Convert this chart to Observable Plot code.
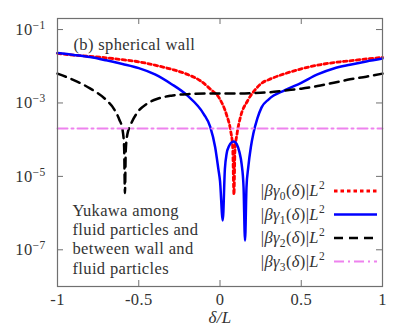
<!DOCTYPE html>
<html><head><meta charset="utf-8">
<script src="https://cdn.jsdelivr.net/npm/d3@7"></script>
<script src="https://cdn.jsdelivr.net/npm/@observablehq/plot@0.6"></script>
<style>
body{margin:0;background:#fff}
svg text, svg tspan { font-family: "Liberation Serif", "Times New Roman", serif !important; }
</style>
</head><body><div id="chart"></div>
<script>
// ---- data ----
const xTicks = [-1, -0.5, 0, 0.5, 1];
const xTickLabels = ["-1", "-0.5", "0", "0.5", "1"];
const yTicks = [1e-1, 1e-3, 1e-5, 1e-7];
const yTickExponents = ["\u22121", "\u22123", "\u22125", "\u22127"];

const gamma0X = [-1,-0.9,-0.8,-0.7,-0.6,-0.5,-0.4,-0.3,-0.2,-0.12,-0.06,0,0.04,0.065,0.078,0.086,0.092,0.105,0.125,0.17,0.22,0.26,0.3,0.4,0.5,0.6,0.7,0.8,0.9,1];
const gamma0Y = [2.24e-2,2.0e-2,1.86e-2,1.70e-2,1.51e-2,1.32e-2,1.07e-2,8.3e-3,6.0e-3,4.0e-3,2.4e-3,1.26e-3,4.8e-4,1.78e-4,6.3e-5,3.2e-6,5.0e-5,1.45e-4,4.0e-4,1.15e-3,2.4e-3,3.55e-3,4.3e-3,6.3e-3,8.5e-3,1.07e-2,1.26e-2,1.41e-2,1.58e-2,1.74e-2];

const gamma1X = [-1,-0.9,-0.8,-0.7,-0.6,-0.5,-0.4,-0.3,-0.2,-0.1,-0.06,-0.03,-0.01,0,0.017,0.03,0.041,0.055,0.072,0.086,0.103,0.12,0.133,0.145,0.154,0.163,0.174,0.19,0.205,0.23,0.256,0.3,0.4,0.5,0.6,0.7,0.8,0.9,1];
const gamma1Y = [2.29e-2,2.04e-2,1.78e-2,1.45e-2,1.15e-2,8.9e-3,6.0e-3,3.3e-3,1.58e-3,5.0e-4,2.24e-4,6.3e-5,1.58e-5,7.6e-6,6.3e-7,1.58e-5,4.2e-5,6.6e-5,8.5e-5,8.9e-5,7.6e-5,4.5e-5,2.19e-5,5.0e-6,1.78e-7,5.0e-6,1.78e-5,6.3e-5,1.45e-4,3.8e-4,7.6e-4,1.26e-3,2.24e-3,3.55e-3,6.0e-3,8.7e-3,1.10e-2,1.35e-2,1.62e-2];

const gamma2X = [-1,-0.9,-0.8,-0.7,-0.65,-0.62,-0.6,-0.59,-0.585,-0.58,-0.57,-0.555,-0.51,-0.45,-0.38,-0.3,-0.2,-0.06,0.1,0.2,0.3,0.4,0.5,0.6,0.7,0.8,0.9,1];
const gamma2Y = [6.3e-3,4.2e-3,2.5e-3,1.2e-3,6.6e-4,3.55e-4,1.9e-4,6.3e-5,3.5e-6,5.0e-5,1.41e-4,2.24e-4,5.4e-4,9.5e-4,1.32e-3,1.58e-3,1.74e-3,1.82e-3,1.82e-3,1.86e-3,1.95e-3,2.19e-3,2.45e-3,2.88e-3,3.55e-3,4.4e-3,5.2e-3,6.3e-3];

const gamma3X = [-1, 1];
const gamma3Y = [2.0e-4, 2.0e-4];

const legendIndices = ["0", "1", "2", "3"];
const panelTitle = "(b) spherical wall";
const noteText = "Yukawa among\nfluid particles and\nbetween wall and\nfluid particles";
const xLabel = "\u03b4/L";

// ---- build tables ----
const toRows = (xs, ys) => xs.map((x, i) => ({x, y: ys[i]}));
const g0 = toRows(gamma0X, gamma0Y);
const g1 = toRows(gamma1X, gamma1Y);
const g2 = toRows(gamma2X, gamma2Y);
const g3 = toRows(gamma3X, gamma3Y);

const SERIF = "Liberation Serif";
const FS = 16.5;
const axisColor = "#707070";
const textColor = "#333";

const plot = Plot.plot({
  width: 407, height: 336,
  marginLeft: 57, marginRight: 25, marginTop: 18, marginBottom: 50,
  x: {domain: [-1, 1]},
  y: {type: "log", domain: [1e-8, 0.2]},
  marks: [
    Plot.axisX(xTicks, {tickSize: 0, tickPadding: 7, fontSize: FS, tickFormat: d => xTickLabels[xTicks.indexOf(d)], label: null, fill: textColor}),
    Plot.axisY(yTicks, {tickSize: 0, tickPadding: 12, fontSize: FS, tickFormat: d => yTickExponents[yTicks.indexOf(d)], label: null, fill: textColor}),
    Plot.tickX(xTicks, {x: d => d, insetTop: 262, stroke: axisColor, strokeWidth: 1}),
    Plot.tickX(xTicks, {x: d => d, insetBottom: 262, stroke: axisColor, strokeWidth: 1}),
    Plot.tickY(yTicks, {y: d => d, insetRight: 319, stroke: axisColor, strokeWidth: 1}),
    Plot.tickY(yTicks, {y: d => d, insetLeft: 319, stroke: axisColor, strokeWidth: 1}),
    Plot.line(g0, {x: "x", y: "y", stroke: "#ff0000", strokeWidth: 2.8, strokeDasharray: "3.5,3", curve: "monotone-x"}),
    Plot.line(g1, {x: "x", y: "y", stroke: "#0000ff", strokeWidth: 2.5, curve: "monotone-x"}),
    Plot.line(g2, {x: "x", y: "y", stroke: "#000000", strokeWidth: 2.5, strokeDasharray: "9,6", curve: "monotone-x"}),
    Plot.line(g3, {x: "x", y: "y", stroke: "#ee82ee", strokeWidth: 2, strokeDasharray: "10,4,2,4"}),
    Plot.frame({stroke: axisColor, strokeWidth: 1.2}),
    Plot.text([panelTitle], {text: d => d, frameAnchor: "top-left", dx: 16, dy: 20, textAnchor: "start", fontSize: FS, fill: textColor}),
    Plot.text([noteText], {text: d => d, frameAnchor: "top-left", dx: 15, dy: 220, textAnchor: "start", lineAnchor: "middle", lineHeight: 1.18, fontSize: FS, fill: textColor}),
    Plot.text([xLabel], {text: d => d, frameAnchor: "bottom", dy: 36, fontSize: FS + 0.5, fontStyle: "italic", fill: textColor})
  ]
});

const svg = d3.select(plot);
svg.attr("font-family", SERIF);

// superscript exponents on the y tick labels
svg.selectAll('g[aria-label="y-axis tick label"] text').each(function() {
  const t = d3.select(this);
  const exp = t.text();
  t.text(null);
  t.append("tspan").text("10");
  t.append("tspan").attr("dy", "-0.5em").attr("font-size", "11.5px").text(exp);
});

// legend (inside the frame, right side)
const legendStyles = [
  {stroke: "#ff0000", width: 2.8, dash: "3.5,3"},
  {stroke: "#0000ff", width: 2.5, dash: null},
  {stroke: "#000000", width: 2.5, dash: "9,6"},
  {stroke: "#ee82ee", width: 2, dash: "10,4,2,4"}
];
const lg = svg.append("g").attr("font-size", FS).attr("fill", textColor).attr("font-family", SERIF);
legendIndices.forEach((k, i) => {
  const yy = 191 + i * 23.5;
  const t = lg.append("text").attr("x", 325).attr("y", yy).attr("dy", "0.32em").attr("text-anchor", "end");
  t.append("tspan").text("|");
  t.append("tspan").attr("font-style", "italic").text("\u03b2\u03b3");
  t.append("tspan").attr("font-size", "11.5px").attr("dy", "4").text(k);
  t.append("tspan").attr("dy", "-4").text("(");
  t.append("tspan").attr("font-style", "italic").text("\u03b4");
  t.append("tspan").text(")|");
  t.append("tspan").attr("font-style", "italic").text("L");
  t.append("tspan").attr("font-size", "11.5px").attr("dy", "-7").text("2");
  const s = legendStyles[i];
  const ln = lg.append("line").attr("x1", 334).attr("x2", 377).attr("y1", yy).attr("y2", yy)
    .attr("stroke", s.stroke).attr("stroke-width", s.width);
  if (s.dash) ln.attr("stroke-dasharray", s.dash);
});

// force the serif face on every text node (attribute + inline style)
svg.selectAll("g").filter(function() { return this.getAttribute("font-family"); }).attr("font-family", SERIF);
svg.selectAll("text, tspan").attr("font-family", SERIF).style("font-family", "'Liberation Serif'").attr("letter-spacing", "0.35");

document.getElementById("chart").appendChild(plot);
</script>
</body></html>
